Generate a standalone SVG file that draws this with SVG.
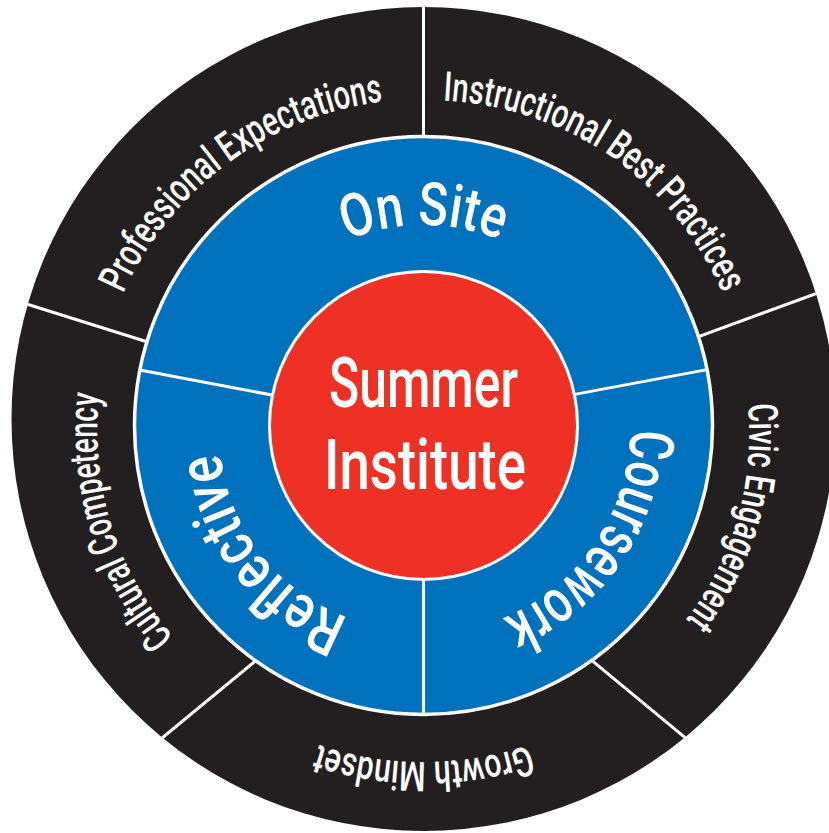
<svg xmlns="http://www.w3.org/2000/svg" width="829" height="833" viewBox="0 0 829 833">
<style>
.t{font-family:"Liberation Sans Narrow","Roboto","Liberation Sans",sans-serif;fill:#ffffff;font-weight:500;}
.o{font-size:41px;}
.b{font-size:60px;}
.div{stroke:#ffffff;stroke-width:3;fill:none;}
</style>
<defs>
<clipPath id="disk"><circle cx="423.5" cy="419" r="412"/></clipPath>
<path id="pPro" d="M619.2,692.5 A329,329 0 0 1 227.8,163.5 A329,329 0 0 1 619.2,692.5"/>
<path id="pIns" d="M236.1,699.6 A330,330 0 0 1 610.9,156.4 A330,330 0 0 1 236.1,699.6"/>
<path id="pCiv" d="M109.2,337.9 A327,327 0 0 1 737.8,518.1 A327,327 0 0 1 109.2,337.9"/>
<path id="pGro" d="M423.5,94 A334,334 0 0 1 423.5,762 A334,334 0 0 1 423.5,94"/>
<path id="pCul" d="M736.2,332.4 A327,327 0 0 1 110.8,523.6 A327,327 0 0 1 736.2,332.4"/>
<path id="pOn" d="M423.5,629 A202,202 0 0 1 423.5,225 A202,202 0 0 1 423.5,629"/>
<path id="pCou" d="M251.9,311.2 A207,207 0 0 1 595.1,542.8 A207,207 0 0 1 251.9,311.2"/>
<path id="pRef" d="M586.6,299.6 A207,207 0 0 1 260.4,554.4 A207,207 0 0 1 586.6,299.6"/>
</defs>

<g id="outer-ring">
<circle cx="423.5" cy="419" r="412" fill="#231f20"/>
</g>

<g id="connectors" clip-path="url(#disk)">
<line class="div" x1="423.5" y1="0" x2="423.5" y2="200"/>
<line class="div" x1="190" y1="355.3" x2="0" y2="295.6"/>
<line class="div" x1="655" y1="352.6" x2="840" y2="284.8"/>
<line class="div" x1="560" y1="634.1" x2="720" y2="766.5"/>
<line class="div" x1="290" y1="632.4" x2="130" y2="764.5"/>
</g>

<g id="professional-expectations">
<text class="t o"><textPath href="#pPro" startOffset="50%" text-anchor="middle" textLength="338" lengthAdjust="spacingAndGlyphs">Professional Expectations</textPath></text>
</g>
<g id="instructional-best-practices">
<text class="t o"><textPath href="#pIns" startOffset="50%" text-anchor="middle" textLength="358" lengthAdjust="spacingAndGlyphs">Instructional Best Practices</textPath></text>
</g>
<g id="civic-engagement">
<text class="t o"><textPath href="#pCiv" startOffset="50%" text-anchor="middle" textLength="230" lengthAdjust="spacingAndGlyphs">Civic Engagement</textPath></text>
</g>
<g id="growth-mindset">
<text class="t o"><textPath href="#pGro" startOffset="50%" text-anchor="middle" textLength="214" lengthAdjust="spacingAndGlyphs">Growth Mindset</textPath></text>
</g>
<g id="cultural-competency">
<text class="t o"><textPath href="#pCul" startOffset="50%" text-anchor="middle" textLength="262" lengthAdjust="spacingAndGlyphs">Cultural Competency</textPath></text>
</g>

<g id="inner-ring">
<circle cx="423.5" cy="425.5" r="289" fill="#0071bc" stroke="#ffffff" stroke-width="3.5"/>
<line class="div" x1="423.5" y1="560" x2="423.5" y2="713"/>
<line class="div" x1="141" y1="370.3" x2="300" y2="400.3"/>
<line class="div" x1="707" y1="369.6" x2="540" y2="400.9"/>
</g>

<g id="on-site">
<text class="t b"><textPath href="#pOn" startOffset="50%" text-anchor="middle" textLength="157" lengthAdjust="spacingAndGlyphs">On Site</textPath></text>
</g>
<g id="coursework">
<text class="t b" style="font-size:62px"><textPath href="#pCou" startOffset="50%" text-anchor="middle" textLength="242" lengthAdjust="spacingAndGlyphs">Coursework</textPath></text>
</g>
<g id="reflective">
<text class="t b" style="font-size:62px"><textPath href="#pRef" startOffset="50%" text-anchor="middle" textLength="220" lengthAdjust="spacingAndGlyphs">Reflective</textPath></text>
</g>

<g id="summer-institute">
<circle cx="423.5" cy="425.5" r="154" fill="#ee3124" stroke="#ffffff" stroke-width="3"/>
<text class="t" x="423.5" y="407" font-size="70" text-anchor="middle" textLength="189" lengthAdjust="spacingAndGlyphs">Summer</text>
<text class="t" x="425" y="489" font-size="70" text-anchor="middle" textLength="202" lengthAdjust="spacingAndGlyphs">Institute</text>
</g>
</svg>
